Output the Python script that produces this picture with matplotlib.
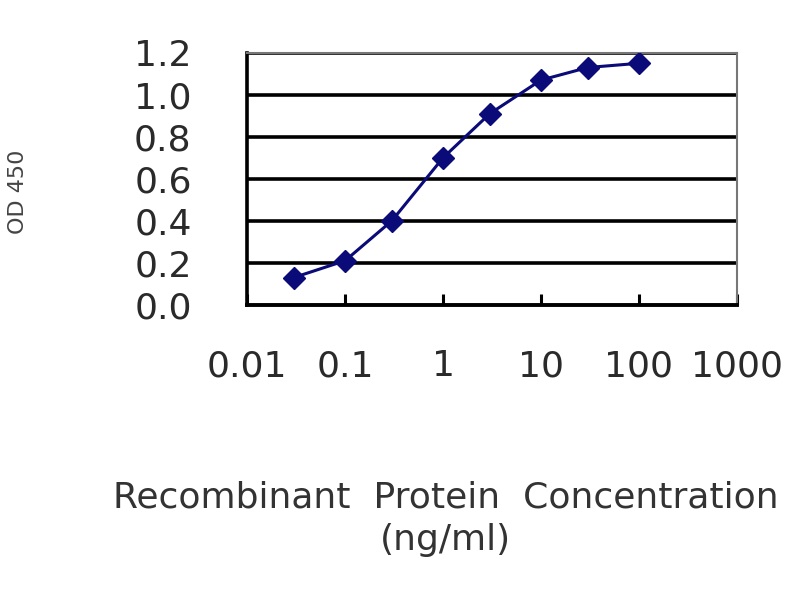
import matplotlib
matplotlib.use("Agg")
import matplotlib.pyplot as plt
from matplotlib.ticker import FixedLocator, NullLocator, FixedFormatter

# data
conc = [0.03, 0.1, 0.3, 1, 3, 10, 30, 100]
od450 = [0.13, 0.21, 0.40, 0.70, 0.91, 1.07, 1.13, 1.15]
xticks = [0.01, 0.1, 1, 10, 100, 1000]
xtick_labels = ["0.01", "0.1", "1", "10", "100", "1000"]
yticks = [0.0, 0.2, 0.4, 0.6, 0.8, 1.0, 1.2]
ytick_labels = ["0.0", "0.2", "0.4", "0.6", "0.8", "1.0", "1.2"]

plt.rcParams["font.family"] = ["DejaVu Sans"]

fig = plt.figure(figsize=(8, 6), dpi=100)
ax = fig.add_axes([0.309, 0.492, 0.612, 0.42])

for y in yticks[1:]:
    ax.axhline(y, color="black", lw=2.6, zorder=1)

ax.plot(conc, od450, color="#0a0a78", lw=2.2, marker="D", markersize=11,
        markeredgecolor="#0a0a78", zorder=3)

ax.set_xscale("log")
ax.set_xlim(0.01, 1000)
ax.set_ylim(0, 1.2)

ax.xaxis.set_major_locator(FixedLocator(xticks))
ax.xaxis.set_major_formatter(FixedFormatter(xtick_labels))
ax.xaxis.set_minor_locator(NullLocator())
ax.set_yticks(yticks)
ax.set_yticklabels(ytick_labels)

ax.tick_params(axis="x", direction="in", length=8, width=2.2, pad=32,
               labelsize=26, labelcolor="#2a2a2a")
ax.tick_params(axis="y", length=0, pad=40, labelsize=26, labelcolor="#2a2a2a")

ax.spines["left"].set_linewidth(2.6)
ax.spines["bottom"].set_linewidth(2.8)
ax.spines["top"].set_color("#777777")
ax.spines["top"].set_linewidth(1.5)
ax.spines["right"].set_color("#777777")
ax.spines["right"].set_linewidth(1.5)

fig.text(0.557, 0.135, "Recombinant  Protein  Concentration\n(ng/ml)",
         ha="center", va="center", fontsize=26, color="#333333",
         linespacing=1.3)
fig.text(0.022, 0.68, "OD 450", rotation=90, ha="center", va="center",
         fontsize=16, color="#444444")

fig.savefig("out.png", dpi=100)
